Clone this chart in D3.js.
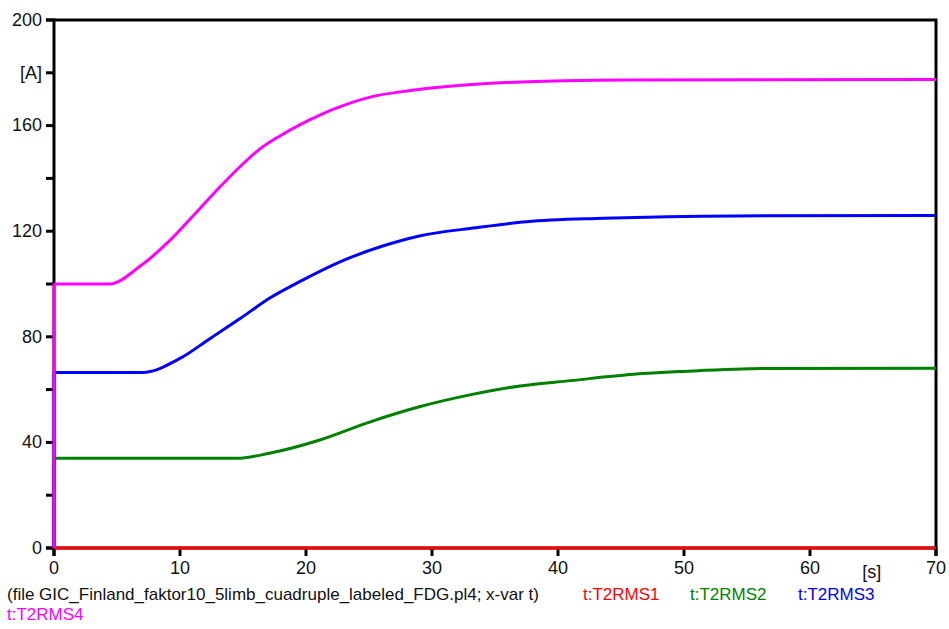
<!DOCTYPE html>
<html>
<head>
<meta charset="utf-8">
<script src="https://cdn.jsdelivr.net/npm/d3@7"></script>
<style>
  body { margin: 0; background: #fff; }
  svg text { font-family: "Liberation Sans", Arial, sans-serif; }
</style>
</head>
<body>
<svg id="chart" width="949" height="629"></svg>
<script>
// time samples [s] and RMS currents [A]
// (first sample of each series is the t=0 start value before the jump)
const timeT2RMS1 = [0, 0, 70];
const valT2RMS1 = [0, 0, 0];

const timeT2RMS2 = [0, 0, 14.5, 17.1, 21.1, 25.1, 29.0, 33.0, 37.0, 41.0, 46.0, 50.0, 56.3, 70];
const valT2RMS2 = [0, 34.0, 34.0, 35.9, 40.9, 47.8, 53.5, 58.0, 61.4, 63.4, 65.8, 66.9, 68.0, 68.1];

const timeT2RMS3 = [0, 0, 7.0, 10.0, 12.4, 14.8, 17.1, 19.5, 22.7, 25.9, 29.0, 33.5, 37.5, 43.6, 54.2, 70];
const valT2RMS3 = [0, 66.5, 66.5, 71.8, 79.4, 87.0, 94.6, 100.9, 108.4, 114.1, 118.2, 121.3, 123.6, 124.9, 125.8, 125.9];

const timeT2RMS4 = [0, 0, 4.4, 6.8, 9.2, 11.6, 13.2, 14.8, 16.3, 17.9, 19.5, 21.1, 22.4, 25.1, 28.3, 31.2, 35.9, 45.4, 70];
const valT2RMS4 = [0, 100, 100, 106.6, 116.5, 128.7, 136.9, 144.6, 151.0, 156.0, 160.3, 164.0, 166.6, 170.8, 173.3, 174.8, 176.3, 177.3, 177.5];

const seriesNames = ["t:T2RMS1", "t:T2RMS2", "t:T2RMS3", "t:T2RMS4"];
const seriesColors = ["#ff0000", "#008000", "#0000ff", "#ff00ff"];

const xTicks = [0, 10, 20, 30, 40, 50, 60, 70];
const yTicks = [0, 20, 40, 60, 80, 100, 120, 140, 160, 180, 200];
const fileLabel = "(file GIC_Finland_faktor10_5limb_cuadruple_labeled_FDG.pl4; x-var t)";

const series = [
  { name: seriesNames[0], color: seriesColors[0], t: timeT2RMS1, v: valT2RMS1 },
  { name: seriesNames[1], color: seriesColors[1], t: timeT2RMS2, v: valT2RMS2 },
  { name: seriesNames[2], color: seriesColors[2], t: timeT2RMS3, v: valT2RMS3 },
  { name: seriesNames[3], color: seriesColors[3], t: timeT2RMS4, v: valT2RMS4 }
];

const svg = d3.select("#chart");
const margin = { top: 20, right: 13, bottom: 81, left: 54 };
const width = 949 - margin.left - margin.right;
const height = 629 - margin.top - margin.bottom;

const x = d3.scaleLinear().domain([0, 70]).range([margin.left, margin.left + width]);
const y = d3.scaleLinear().domain([0, 200]).range([margin.top + height, margin.top]);

// frame (top and right)
svg.append("path")
  .attr("d", `M${x(0)},${y(200)}H${x(70)}V${y(0)}`)
  .attr("fill", "none")
  .attr("stroke", "#000")
  .attr("stroke-width", 3);

// Y axis
const yAxis = svg.append("g")
  .attr("transform", `translate(${x(0)},0)`)
  .call(d3.axisLeft(y).tickValues(yTicks).tickSize(8).tickPadding(4).offset(0)
    .tickFormat(d => d === 180 ? "[A]" : (d % 40 === 0 ? d : "")));
yAxis.select(".domain").attr("stroke", "#000").attr("stroke-width", 3);
yAxis.selectAll(".tick line").attr("stroke", "#000").attr("stroke-width", 3);
yAxis.selectAll(".tick text")
  .attr("fill", "#111")
  .style("font-size", "18px");

// X axis
const xAxis = svg.append("g")
  .attr("transform", `translate(0,${y(0)})`)
  .call(d3.axisBottom(x).tickValues(xTicks).tickSize(8).tickPadding(5).offset(0)
    .tickFormat(d3.format("d")));
xAxis.select(".domain").attr("stroke", "#000").attr("stroke-width", 3);
xAxis.selectAll(".tick line").attr("stroke", "#000").attr("stroke-width", 3);
xAxis.selectAll(".tick text")
  .attr("fill", "#111")
  .style("font-size", "18px");

// x unit label
svg.append("text")
  .attr("x", x(64.9))
  .attr("y", 578)
  .attr("text-anchor", "middle")
  .attr("fill", "#111")
  .style("font-size", "18px")
  .text("[s]");

// lines: the t=0 jump is drawn straight, the rest smoothed
const jump = d3.line().x(d => x(d[0])).y(d => y(d[1]));
const smooth = d3.line()
  .x(d => x(d[0]))
  .y(d => y(d[1]))
  .curve(d3.curveMonotoneX);

series.forEach(s => {
  const pts = s.t.map((t, i) => [t, s.v[i]]);
  const g = svg.append("g");
  g.append("path")
    .datum(pts.slice(0, 2))
    .attr("fill", "none")
    .attr("stroke", s.color)
    .attr("stroke-width", 3)
    .attr("d", jump);
  g.append("path")
    .datum(pts.slice(1))
    .attr("fill", "none")
    .attr("stroke", s.color)
    .attr("stroke-width", 3)
    .attr("d", smooth);
});

// legend
svg.append("text")
  .attr("x", 7)
  .attr("y", 600)
  .attr("fill", "#111")
  .style("font-size", "17px")
  .text(fileLabel);

const legendPos = [[583, 600], [690, 600], [798, 600], [7, 620]];
series.forEach((s, i) => {
  svg.append("text")
    .attr("x", legendPos[i][0])
    .attr("y", legendPos[i][1])
    .attr("fill", s.color)
    .style("font-size", "17px")
    .text(s.name);
});
</script>
</body>
</html>
